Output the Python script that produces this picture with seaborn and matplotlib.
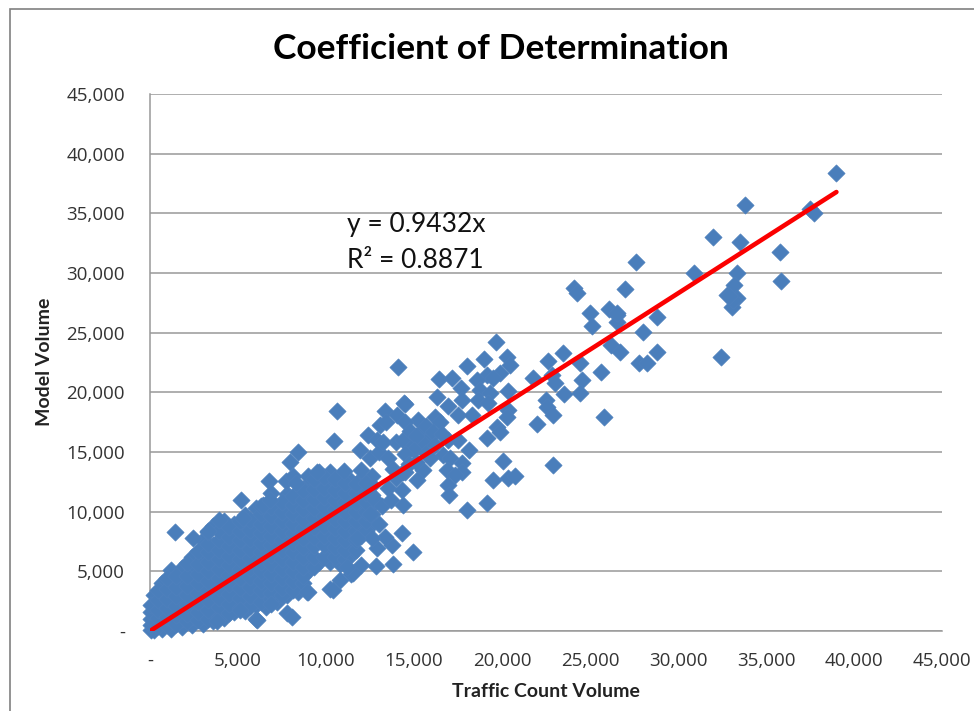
import matplotlib
matplotlib.use('Agg')
import matplotlib.pyplot as plt
from matplotlib.patches import Rectangle
import pandas as pd
import seaborn as sns

slice_x = [200, 700, 1200, 1800, 2400, 3000, 3600, 4200, 4800, 5400, 6000,
           6600, 7200, 7800, 8400, 9000, 9600, 10200, 10800, 11400, 12000, 12600]
slice_y = [
    [100, 700, 1400, 2100, 3000],
    [150, 800, 1500, 2300, 3100, 4000],
    [200, 900, 1700, 2500, 3300, 4200, 5100],
    [300, 1000, 1800, 2600, 3400, 4200, 5300],
    [500, 1200, 2000, 2800, 3600, 4400, 5200, 6200],
    [600, 1400, 2200, 3000, 3800, 4600, 5400, 6200, 7600],
    [800, 1600, 2400, 3200, 4000, 4800, 5600, 6400, 7200, 8800],
    [1100, 1900, 2700, 3500, 4300, 5100, 5900, 6700, 7500, 8300, 9200],
    [1600, 2400, 3200, 4000, 4800, 5600, 6400, 7200, 8000, 9000],
    [1700, 2500, 3300, 4100, 4900, 5700, 6500, 7300, 8100, 8900, 9700],
    [1000, 2200, 3000, 3800, 4600, 5400, 6200, 7000, 7800, 8600, 9400, 10300],
    [2000, 2800, 3600, 4400, 5200, 6000, 6800, 7600, 8400, 9200, 10000, 10600],
    [2400, 3200, 4000, 4800, 5600, 6400, 7200, 8000, 8800, 9600, 10200],
    [1500, 3000, 3800, 4600, 5400, 6200, 7000, 7800, 8600, 9400, 10200, 11000, 11500],
    [3300, 4200, 5000, 5800, 6600, 7400, 8200, 9000, 9800, 10600, 11000],
    [3300, 5000, 5800, 6600, 7500, 8300, 9100, 9900, 10700, 11500, 12300, 13000],
    [5800, 7600, 8400, 9200, 10000, 10800, 11600, 12400, 13300],
    [3500, 5800, 6600, 7600, 8400, 9200, 10000, 10800, 11600, 12400, 13300],
    [4300, 5600, 6400, 7200, 8000, 8800, 9600, 10400, 11200, 12000, 13000],
    [4800, 6400, 7200, 8000, 8800, 9600, 10400, 11200, 12000, 12600],
    [5500, 8000, 8800, 9600, 10400, 11200, 12000, 12700],
    [9000, 9800, 10600, 11400, 12200, 13000],
]

# In-between slices, they close the gaps of the solid band
fill_x = [50, 450, 950, 1500, 2100, 2700, 3300, 3900, 4500, 5100, 5700, 6300, 6900,
          7500, 8100, 8700, 9300, 9900, 10500, 11100, 11700, 12300]
fill_y = [
    [50, 500, 1000, 1600, 2200],
    [400, 1100, 1800, 2600, 3400],
    [500, 1200, 1900, 2700, 3500, 4400],
    [550, 1300, 2100, 2900, 3700, 4600],
    [850, 1400, 2200, 3000, 3800, 4600, 5700],
    [900, 1600, 2400, 3200, 4000, 4800, 5600, 6700],
    [1000, 1800, 2600, 3400, 4200, 5000, 5800, 6600, 7300, 8300],
    [1200, 2000, 2800, 3600, 4400, 5200, 6000, 6800, 7600, 8400],
    [1500, 2300, 3100, 3900, 4700, 5500, 6300, 7100, 7900, 8700],
    [1900, 2800, 3600, 4400, 5200, 6000, 6800, 7600, 8400, 9200],
    [2100, 2900, 3700, 4500, 5300, 6100, 6900, 7700, 8500, 9300],
    [2400, 3400, 4200, 5000, 5800, 6600, 7400, 8200, 9000, 9800, 10500],
    [2700, 3200, 4000, 4800, 5600, 6400, 7200, 8000, 8800, 9600, 10400],
    [3000, 3600, 4400, 5200, 6000, 6800, 7600, 8400, 9200, 10000, 10800],
    [3400, 4200, 5000, 5800, 6600, 7400, 8200, 9000, 9800, 10600, 11300],
    [4000, 4600, 5400, 6200, 7000, 7800, 8600, 9400, 10200, 11000, 11800],
    [5400, 6200, 7100, 7900, 8700, 9500, 10300, 11100, 11900, 12700],
    [6200, 7200, 8000, 8800, 9600, 10400, 11200, 12000, 12900],
    [6200, 7000, 7800, 8600, 9400, 10200, 11000, 11800, 12700],
    [6000, 6800, 7600, 8400, 9200, 10000, 10800, 11600, 12400],
    [6800, 7600, 8400, 9200, 10000, 10800, 11600, 12300],
    [8400, 9200, 10000, 10800, 11600, 12400],
]

# Rough edge of the cloud, individual diamonds
edge_x = [1420, 2450, 3300, 3900, 5170, 5300, 6400, 6770, 6900, 6800, 7700, 7950,
          8420, 8100, 8300, 10600, 10450, 11000, 9500, 12000, 12500, 12400, 13060,
          13350, 13400, 12900, 13000, 13500, 13800, 14000, 14010, 14430, 14090, 11930,
          13250, 12800, 13200, 13500, 12500, 13000, 13700, 14300, 14370, 14000, 14500,
          14950, 13800, 12830, 14300, 13740, 13350, 12900, 12600, 11750, 11530, 11190,
          10400, 8920, 8070, 6080, 3800, 6900, 5100]
edge_y = [8300, 7790, 8400, 9300, 10980, 9500, 10600, 12570, 11600, 11000, 12600, 14190,
          15020, 13000, 12400, 18460, 15900, 13400, 13300, 13500, 14500, 16420, 17260,
          18460, 17500, 16000, 15000, 14500, 13600, 15800, 18100, 19100, 22100, 15170,
          15860, 11000, 10500, 12000, 9800, 9000, 11000, 11800, 10560, 12800, 13300,
          6620, 5610, 5450, 8210, 7210, 7880, 6960, 7790, 7790, 4860, 5360,
          3440, 3270, 1170, 920, 800, 2300, 1800]

# Sparse upper part
mid_x = [19640, 24990, 25090, 26070, 26510, 26510, 28800, 27990, 26170, 26700, 28800, 27780,
         28230, 25620, 23440, 22610, 24420, 24520, 24460, 23520, 21750, 22820, 23000, 22490,
         22530, 22890, 21980, 25790, 20260, 20450, 18970, 17990, 19880, 19140, 18560, 19480,
         16410, 17150, 17650, 20330, 18740, 19310, 16280, 16930, 17700, 14480, 18630, 19200,
         20330, 20260, 17490, 18270, 15220, 16190, 16470, 19690, 19880, 19140, 15340, 15900,
         16930, 17490, 18120, 16640, 17040, 14370, 14860, 15510, 20050, 22890, 17700, 15510,
         15150, 16850, 17700, 17320, 16930, 16980, 19480, 20330, 20730, 19140, 17990, 14500,
         14800, 15100, 15700, 16100, 15000, 15700, 14500, 14700, 15900, 14400, 15100, 16200, 16600]
mid_y = [24240, 26670, 25560, 26980, 26480, 25920, 26340, 25030, 23970, 23410, 23410, 22480,
         22480, 21730, 23320, 22650, 22460, 21030, 19940, 19860, 21200, 21450, 20780, 19360,
         18800, 18100, 17350, 17960, 22990, 22290, 22790, 22230, 21620, 21450, 21030, 21200,
         21140, 21200, 20390, 20110, 20200, 19940, 19630, 18880, 19360, 19020, 19360, 19110,
         18520, 17960, 18100, 18100, 17680, 17960, 17540, 17120, 16700, 16200, 16590, 16280,
         16010, 16010, 15170, 14750, 14500, 16010, 15440, 15750, 14270, 13910, 14080, 13490,
         12650, 13490, 13320, 13070, 12230, 11400, 12650, 12820, 12990, 10730, 10140, 17500,
         16800, 16300, 17200, 16700, 15200, 14900, 14800, 14000, 14500, 13300, 14200, 15600, 16500]

top_x = [38960, 33800, 37490, 37720, 31980, 33510, 35780, 30900, 33340, 35880, 33170, 32760,
         33340, 33040, 33110, 32890, 27600, 26980, 26510, 32430, 24080, 24250]
top_y = [38380, 35700, 35340, 35000, 33020, 32600, 31760, 30030, 30030, 29330, 29000, 28160,
         27900, 27180, 27740, 28070, 30950, 28680, 26650, 22990, 28740, 28320]

trend_x = [100, 39000]
trend_y = [94, 36785]

ticks = [0, 5000, 10000, 15000, 20000, 25000, 30000, 35000, 40000, 45000]
tick_labels = ['-', '5,000', '10,000', '15,000', '20,000', '25,000',
               '30,000', '35,000', '40,000', '45,000']

# Flatten everything into one table for seaborn
xs, ys = [], []
for x, col in zip(slice_x + fill_x, slice_y + fill_y):
    xs += [x] * len(col)
    ys += col
xs += edge_x + mid_x + top_x
ys += edge_y + mid_y + top_y
df = pd.DataFrame({'count': xs, 'model': ys})

sns.set_style('white')
plt.rcParams['font.family'] = ['Open Sans', 'DejaVu Sans']

W, H = 974, 711
fig = plt.figure(figsize=(W / 100, H / 100), dpi=100)
ax = fig.add_axes([150 / W, 1 - 631 / H, 792 / W, 537 / H])

sns.scatterplot(data=df, x='count', y='model', marker='D', s=78, color='#4a7ebb',
                edgecolor='#4f81bd', linewidth=0.4, clip_on=False, zorder=3, ax=ax)
sns.lineplot(x=trend_x, y=trend_y, color='#fb0000', linewidth=3.3, ax=ax, zorder=4,
             solid_capstyle='round')

ax.set_xlim(0, 45000)
ax.set_ylim(0, 45000)
ax.set_xticks(ticks, tick_labels)
ax.set_yticks(ticks, tick_labels)
ax.tick_params(axis='both', length=5, width=1.1, color='#999999', labelsize=13.5,
               labelcolor='#333333')
ax.tick_params(axis='x', pad=10)
ax.tick_params(axis='y', pad=13)
ax.yaxis.grid(True, color='#999999', linewidth=1.1)
ax.set_axisbelow(True)
for side in ['top', 'right']:
    ax.spines[side].set_visible(False)
for side in ['left', 'bottom']:
    ax.spines[side].set_color('#999999')
    ax.spines[side].set_linewidth(1.1)

ax.set_xlabel('Traffic Count Volume', fontsize=14, fontweight='bold', family='Lato', color='#222222')
ax.set_ylabel('Model Volume', fontsize=14, fontweight='bold', family='Lato', color='#222222')
ax.xaxis.set_label_coords(546 / W, 1 - 683 / H, transform=fig.transFigure)
ax.yaxis.set_label_coords(53 / W, 1 - 362 / H, transform=fig.transFigure)

fig.text(501 / W, 1 - 49 / H, 'Coefficient of Determination', ha='center', va='center',
         fontsize=25.5, fontweight='bold', family='Lato', color='black')
fig.text(347 / W, 1 - 224 / H, 'y = 0.9432x', va='center', fontsize=19, family='Lato', color='#111111')
fig.text(347 / W, 1 - 260 / H, 'R² = 0.8871', va='center', fontsize=19, family='Lato', color='#111111')

# chart frame from the spreadsheet, only left and top are inside the picture
fig.add_artist(Rectangle((10 / W, -0.02), 1.0, 1.02 - 8.5 / H, transform=fig.transFigure,
                         fill=False, edgecolor='#808080', linewidth=1.2))

fig.savefig('out.png', dpi=100)
